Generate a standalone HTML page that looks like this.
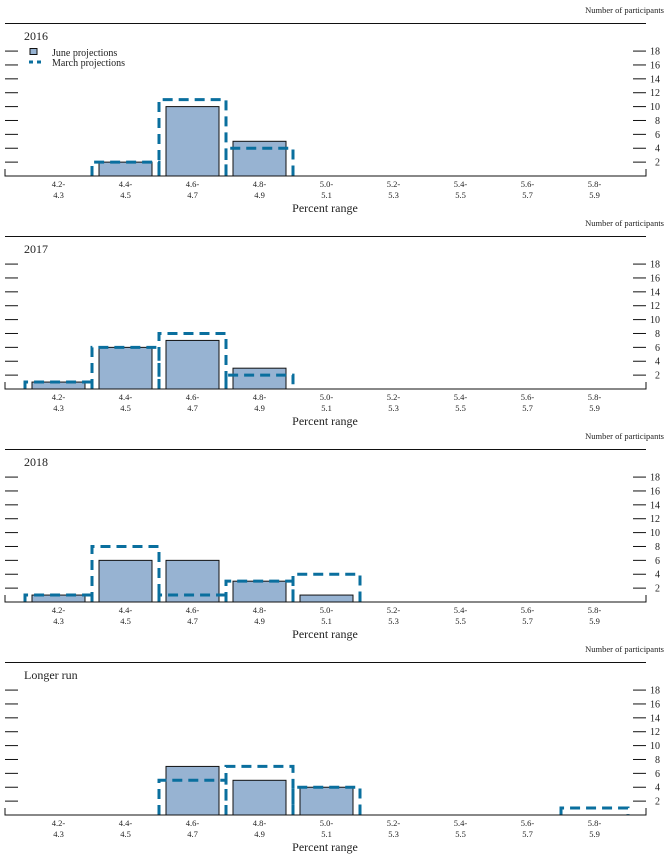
<!DOCTYPE html>
<html><head><meta charset="utf-8"><style>
html,body{margin:0;padding:0;background:#fff;}
svg{display:block;font-family:"Liberation Serif",serif;}
</style></head><body>
<svg id="chart" width="667" height="860" viewBox="0 0 667 860" xmlns="http://www.w3.org/2000/svg"></svg>
<script>
const categories = ["4.2-|4.3","4.4-|4.5","4.6-|4.7","4.8-|4.9","5.0-|5.1","5.2-|5.3","5.4-|5.5","5.6-|5.7","5.8-|5.9"];
const panelTitles = ["2016","2017","2018","Longer run"];
const juneValues = [
  [0,2,10,5,0,0,0,0,0],
  [1,6,7,3,0,0,0,0,0],
  [1,6,6,3,1,0,0,0,0],
  [0,0,7,5,4,0,0,0,0]
];
const marchValues = [
  [0,2,11,4,0,0,0,0,0],
  [1,6,8,2,0,0,0,0,0],
  [1,8,1,3,4,0,0,0,0],
  [0,0,5,7,4,0,0,0,1]
];
const yTicks = [2,4,6,8,10,12,14,16,18];

const svg = document.getElementById('chart');
const NS = "http://www.w3.org/2000/svg";
function mk(tag, attrs, parent){
  const e = document.createElementNS(NS, tag);
  for (const k in attrs) e.setAttribute(k, attrs[k]);
  (parent||svg).appendChild(e);
  return e;
}
const left = 5, right = 646, unit = 6.94, step = 67, x0 = 58.5;
function xCenter(i){ return x0 + i*step; }

panelTitles.forEach((title, p) => {
  const off = p*213;
  const base = 176 + off;
  const yS = v => base - v*unit;
  const g = mk('g', {});
  
  

  const np = mk('text', {x:664, y:13+off, 'font-size':8.5, 'text-anchor':'end', fill:'#222'}, g);
  np.textContent = "Number of participants";
  
  

  const tl = mk('line', {x1:left, x2:right, y1:23.5+off, y2:23.5+off, stroke:'#111', 'stroke-width':1}, g);
  
  

  const tt = mk('text', {x:24, y:40+off, 'font-size':12, fill:'#222'}, g);
  tt.textContent = title;
  
  

  // ticks
  yTicks.forEach(t => {
    const y = yS(t);
    const l1 = mk('line', {x1:left, x2:18, y1:y, y2:y, stroke:'#111', 'stroke-width':1}, g);
    
    
    const l2 = mk('line', {x1:633, x2:right, y1:y, y2:y, stroke:'#111', 'stroke-width':1}, g);
    
    
    const tx = mk('text', {x:660, y:y+3.5, 'font-size':10, 'text-anchor':'end', fill:'#222'}, g);
    tx.textContent = t;
    
    
  });

  // june bars
  juneValues[p].forEach((v, i) => {
    if (!v) return;
    const cx = xCenter(i);
    const r = mk('rect', {x:cx-26.5, y:yS(v), width:53, height:v*unit, fill:'#97b3d2', stroke:'#111', 'stroke-width':1}, g);
    
    
  });
  // march dashed outlines
  marchValues[p].forEach((v, i) => {
    if (!v) return;
    const cx = xCenter(i);
    const a = cx-33.5, b = cx+33.5, y = yS(v);
    const pl = mk('polyline', {points:`${a},${base} ${a},${y} ${b},${y} ${b},${base}`, fill:'none', stroke:'#0a6f9e', 'stroke-width':3, 'stroke-dasharray':'10,6'}, g);
    
    
  });

  // axis
  const ax = mk('polyline', {points:`${left},${base-7} ${left},${base} ${right},${base} ${right},${base-7}`, fill:'none', stroke:'#111', 'stroke-width':1}, g);
  
  

  categories.forEach((c, i) => {
    const parts = c.split('|');
    const cx = xCenter(i);
    const t1 = mk('text', {x:cx, y:base+11, 'font-size':8.5, 'text-anchor':'middle', fill:'#222'}, g);
    t1.textContent = parts[0];
    
    
    const t2 = mk('text', {x:cx, y:base+22, 'font-size':8.5, 'text-anchor':'middle', fill:'#222'}, g);
    t2.textContent = parts[1];
    
    
  });

  const xt = mk('text', {x:325, y:base+36, 'font-size':12, 'text-anchor':'middle', fill:'#222'}, g);
  xt.textContent = "Percent range";
  
  

  if (p === 0) {
    const lg = mk('g', {}, g);
    
    
    const sw = mk('rect', {x:30, y:48.5, width:7, height:6, fill:'#97b3d2', stroke:'#111', 'stroke-width':1}, lg);
    
    
    const l1 = mk('text', {x:52, y:56, 'font-size':10, fill:'#222'}, lg);
    l1.textContent = "June projections";
    
    
    const ms = mk('line', {x1:29, x2:45, y1:62, y2:62, stroke:'#0a6f9e', 'stroke-width':3, 'stroke-dasharray':'4,4'}, lg);
    
    
    const l2 = mk('text', {x:52, y:66, 'font-size':10, fill:'#222'}, lg);
    l2.textContent = "March projections";
    
    
  }
});
</script>
</body></html>
